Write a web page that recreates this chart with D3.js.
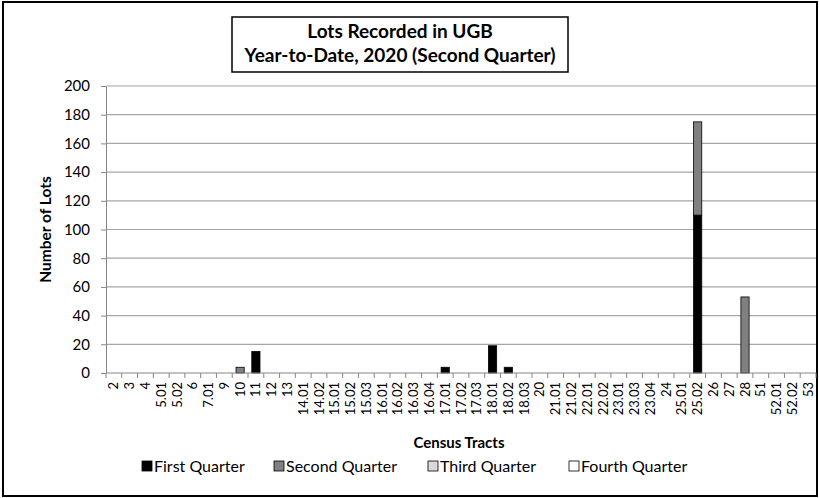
<!DOCTYPE html>
<html>
<head>
<meta charset="utf-8">
<title>Lots Recorded in UGB</title>
<script src="https://cdnjs.cloudflare.com/ajax/libs/d3/7.8.5/d3.min.js"></script>
<style>
body { margin: 0; background: #fff; }
svg text { font-family: Lato, "Noto Sans", sans-serif; fill: #000; }
</style>
</head>
<body>
<div id="chart"></div>
<script>
// census tracts along the x axis
var tracts = ["2", "3", "4", "5.01", "5.02", "6", "7.01", "9", "10", "11", "12", "13",
  "14.01", "14.02", "15.01", "15.02", "15.03", "16.01", "16.02", "16.03", "16.04",
  "17.01", "17.02", "17.03", "18.01", "18.02", "18.03", "20", "21.01", "21.02",
  "22.01", "22.02", "23.01", "23.03", "23.04", "24", "25.01", "25.02", "26", "27",
  "28", "51", "52.01", "52.02", "53"];

// lots per quarter, same order as tracts
var firstQuarter = [0, 0, 0, 0, 0, 0, 0, 0, 0, 15, 0, 0, 0, 0, 0, 0, 0, 0, 0, 0, 0,
  4, 0, 0, 19, 4, 0, 0, 0, 0, 0, 0, 0, 0, 0, 0, 0, 110, 0, 0, 0, 0, 0, 0, 0];
var secondQuarter = [0, 0, 0, 0, 0, 0, 0, 0, 4, 0, 0, 0, 0, 0, 0, 0, 0, 0, 0, 0, 0,
  0, 0, 0, 0, 0, 0, 0, 0, 0, 0, 0, 0, 0, 0, 0, 0, 65, 0, 0, 53, 0, 0, 0, 0];
var thirdQuarter = tracts.map(function () { return 0; });
var fourthQuarter = tracts.map(function () { return 0; });

var quarterNames = ["First Quarter", "Second Quarter", "Third Quarter", "Fourth Quarter"];
var quarterColors = ["#000000", "#808080", "#d9d9d9", "#ffffff"];
var yTicks = [0, 20, 40, 60, 80, 100, 120, 140, 160, 180, 200];

var width = 819, height = 498;
var margin = {left: 106, right: 3, top: 86, bottom: 125};

var rows = tracts.map(function (t, i) {
  return {tract: t, q0: firstQuarter[i], q1: secondQuarter[i], q2: thirdQuarter[i], q3: fourthQuarter[i]};
});
var stacked = d3.stack().keys(["q0", "q1", "q2", "q3"])(rows);

var svg = d3.select("#chart").append("svg")
  .attr("width", width)
  .attr("height", height);

// outer frame
svg.append("rect")
  .attr("x", 3).attr("y", 2)
  .attr("width", width - 5).attr("height", height - 4)
  .attr("fill", "#fff")
  .attr("stroke", "#000")
  .attr("stroke-width", 2);

var x = d3.scaleBand()
  .domain(tracts)
  .range([margin.left, width - margin.right])
  .paddingInner(0.48)
  .paddingOuter(0.24);

var y = d3.scaleLinear()
  .domain([0, 200])
  .range([height - margin.bottom, margin.top]);

// gridlines
svg.append("g")
  .selectAll("line")
  .data(yTicks.slice(1))
  .enter().append("line")
  .attr("x1", margin.left).attr("x2", width - margin.right)
  .attr("y1", function (d) { return y(d); })
  .attr("y2", function (d) { return y(d); })
  .attr("stroke", "#a6a6a6")
  .attr("stroke-width", 1.2);

// bars
svg.append("g")
  .selectAll("g")
  .data(stacked)
  .enter().append("g")
  .attr("fill", function (d, i) { return quarterColors[i]; })
  .selectAll("rect")
  .data(function (d) { return d.filter(function (s) { return s[1] - s[0] > 0; }); })
  .enter().append("rect")
  .attr("x", function (d) { return x(d.data.tract); })
  .attr("width", x.bandwidth())
  .attr("y", function (d) { return y(d[1]); })
  .attr("height", function (d) { return y(d[0]) - y(d[1]); })
  .attr("stroke", "#000")
  .attr("stroke-width", 0.8);

// y axis
var yAxis = svg.append("g")
  .attr("transform", "translate(" + margin.left + ",0)")
  .call(d3.axisLeft(y).tickValues(yTicks).tickSize(5).tickPadding(11).tickSizeOuter(0));
yAxis.select(".domain").attr("stroke", "#868686");
yAxis.selectAll(".tick line").attr("stroke", "#868686");
yAxis.selectAll("text").attr("font-size", 15).style("font-family", "Lato, sans-serif");

// x axis: ticks sit on the category boundaries
var step = x.step();
var xg = svg.append("g").attr("transform", "translate(0," + y(0) + ")");
xg.append("line")
  .attr("x1", margin.left).attr("x2", width - margin.right)
  .attr("stroke", "#868686");
xg.selectAll("line.tk")
  .data(d3.range(tracts.length + 1))
  .enter().append("line")
  .attr("class", "tk")
  .attr("x1", function (i) { return margin.left + i * step; })
  .attr("x2", function (i) { return margin.left + i * step; })
  .attr("y1", 0).attr("y2", 5)
  .attr("stroke", "#868686");
xg.selectAll("text")
  .data(tracts)
  .enter().append("text")
  .attr("transform", function (d) {
    return "translate(" + (x(d) + x.bandwidth() / 2 + 4.5) + ",9) rotate(-90)";
  })
  .attr("text-anchor", "end")
  .attr("font-size", 13)
  .text(function (d) { return d; });

// axis titles
svg.append("text")
  .attr("transform", "translate(51," + ((margin.top + y(0)) / 2) + ") rotate(-90)")
  .attr("text-anchor", "middle")
  .attr("font-size", 15.5)
  .attr("font-weight", "bold")
  .text("Number of Lots");

svg.append("text")
  .attr("x", 459).attr("y", 448)
  .attr("text-anchor", "middle")
  .attr("font-size", 15)
  .attr("font-weight", "bold")
  .text("Census Tracts");

// title box
svg.append("rect")
  .attr("x", 232).attr("y", 17)
  .attr("width", 336).attr("height", 55)
  .attr("fill", "#fff")
  .attr("stroke", "#000")
  .attr("stroke-width", 1.5);
svg.append("text")
  .attr("x", 400).attr("y", 38)
  .attr("text-anchor", "middle")
  .attr("font-size", 19)
  .attr("font-weight", "bold")
  .text("Lots Recorded in UGB");
svg.append("text")
  .attr("x", 400).attr("y", 62)
  .attr("text-anchor", "middle")
  .attr("font-size", 19)
  .attr("font-weight", "bold")
  .text("Year-to-Date, 2020 (Second Quarter)");

// legend
var legendX = [142, 274, 428, 569];
var legend = svg.append("g")
  .selectAll("g")
  .data(quarterNames)
  .enter().append("g")
  .attr("transform", function (d, i) { return "translate(" + legendX[i] + ",466)"; });
legend.append("rect")
  .attr("x", 0).attr("y", -5)
  .attr("width", 10).attr("height", 10)
  .attr("fill", function (d, i) { return quarterColors[i]; })
  .attr("stroke", "#000")
  .attr("stroke-width", 0.8);
legend.append("text")
  .attr("x", 12).attr("y", 5.5)
  .attr("font-size", 16)
  .text(function (d) { return d; });
</script>
</body>
</html>
